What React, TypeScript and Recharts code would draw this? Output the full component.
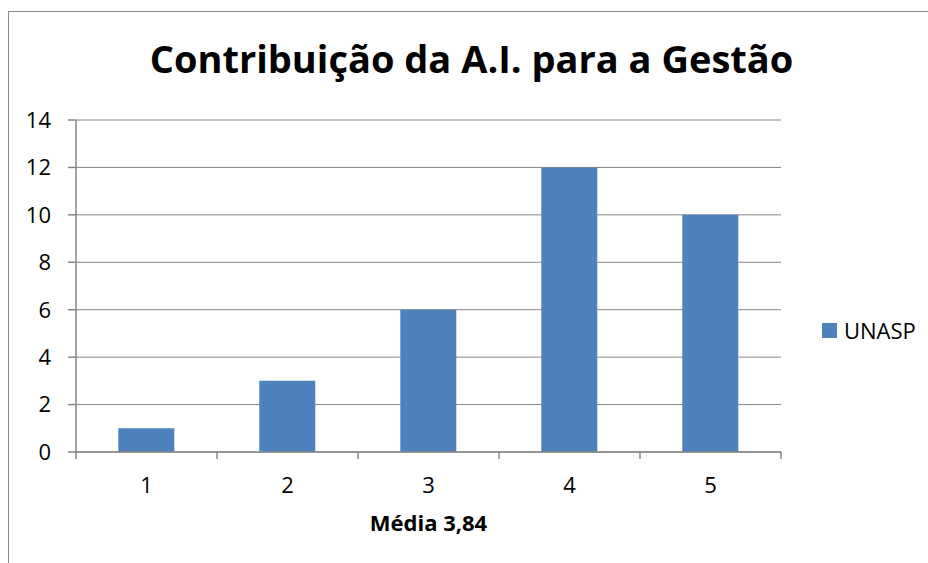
import React from 'react'
import { BarChart, Bar, XAxis, YAxis, CartesianGrid } from 'recharts'

const chartTitle = 'Contribuição da A.I. para a Gestão'
const xAxisTitle = 'Média 3,84'
const seriesName = 'UNASP'
const categories = ['1', '2', '3', '4', '5']
const unaspValues = [1, 3, 6, 12, 10]
const yTicks = [0, 2, 4, 6, 8, 10, 12, 14]

const BAR_COLOR = '#4F81BD'
const AXIS_COLOR = '#868686'
const FONT = '"Open Sans", "Noto Sans", sans-serif'

const data = categories.map((c, i) => ({ name: c, [seriesName]: unaspValues[i] }))

// Excel style: tick marks sit between categories, labels in the middle
const CategoryTick = (props: any) => {
  const { x, y, payload, index, width, visibleTicksCount } = props
  const band = width && visibleTicksCount ? width / visibleTicksCount : 141
  const left = x - band / 2
  const isLast = index === visibleTicksCount - 1
  return (
    <g>
      <line x1={left} y1={y} x2={left} y2={y + 7} stroke={AXIS_COLOR} strokeWidth={1.5} />
      {isLast && (
        <line x1={left + band} y1={y} x2={left + band} y2={y + 7} stroke={AXIS_COLOR} strokeWidth={1.5} />
      )}
      <text x={x} y={y + 41} textAnchor="middle" fill="#000" fontSize={22} fontFamily={FONT}>
        {payload.value}
      </text>
    </g>
  )
}

export default function App() {
  return (
    <div
      style={{
        position: 'absolute',
        left: 8,
        top: 11,
        width: 926,
        height: 560,
        borderTop: '1.5px solid #8a8a8a',
        borderLeft: '1.5px solid #8a8a8a',
        boxSizing: 'border-box',
        background: '#fff',
        fontFamily: FONT
      }}
    >
      <div
        style={{
          position: 'absolute',
          left: 0,
          width: 925,
          top: 27,
          textAlign: 'center',
          fontSize: 38,
          lineHeight: 1,
          fontWeight: 700,
          color: '#000',
          whiteSpace: 'nowrap'
        }}
      >
        {chartTitle}
      </div>

      <BarChart
        width={925}
        height={551}
        data={data}
        margin={{ top: 108, right: 153, bottom: 21, left: 0 }}
        barCategoryGap="30%"
      >
        <CartesianGrid vertical={false} stroke={AXIS_COLOR} strokeWidth={1} />
        <XAxis
          dataKey="name"
          height={90}
          tickSize={0}
          tickMargin={0}
          tickLine={false}
          axisLine={{ stroke: AXIS_COLOR, strokeWidth: 1.5 }}
          tick={<CategoryTick />}
          interval={0}
          label={{
            value: xAxisTitle,
            position: 'insideBottom',
            offset: 11,
            fill: '#000',
            fontSize: 22,
            fontWeight: 700,
            fontFamily: FONT
          }}
        />
        <YAxis
          width={67}
          domain={[0, 14]}
          ticks={yTicks}
          interval={0}
          tickSize={8}
          tickMargin={17}
          axisLine={{ stroke: AXIS_COLOR, strokeWidth: 1.5 }}
          tickLine={{ stroke: AXIS_COLOR, strokeWidth: 1.5 }}
          tick={{ fill: '#000', fontSize: 22, fontFamily: FONT }}
        />
        <Bar dataKey={seriesName} fill={BAR_COLOR} isAnimationActive={false} />
      </BarChart>

      <div
        style={{
          position: 'absolute',
          left: 813,
          top: 307,
          display: 'flex',
          alignItems: 'center',
          fontSize: 22,
          lineHeight: 1
        }}
      >
        <span style={{ display: 'inline-block', width: 15, height: 15, background: BAR_COLOR, marginRight: 7 }} />
        <span style={{ color: '#000' }}>{seriesName}</span>
      </div>
    </div>
  )
}
